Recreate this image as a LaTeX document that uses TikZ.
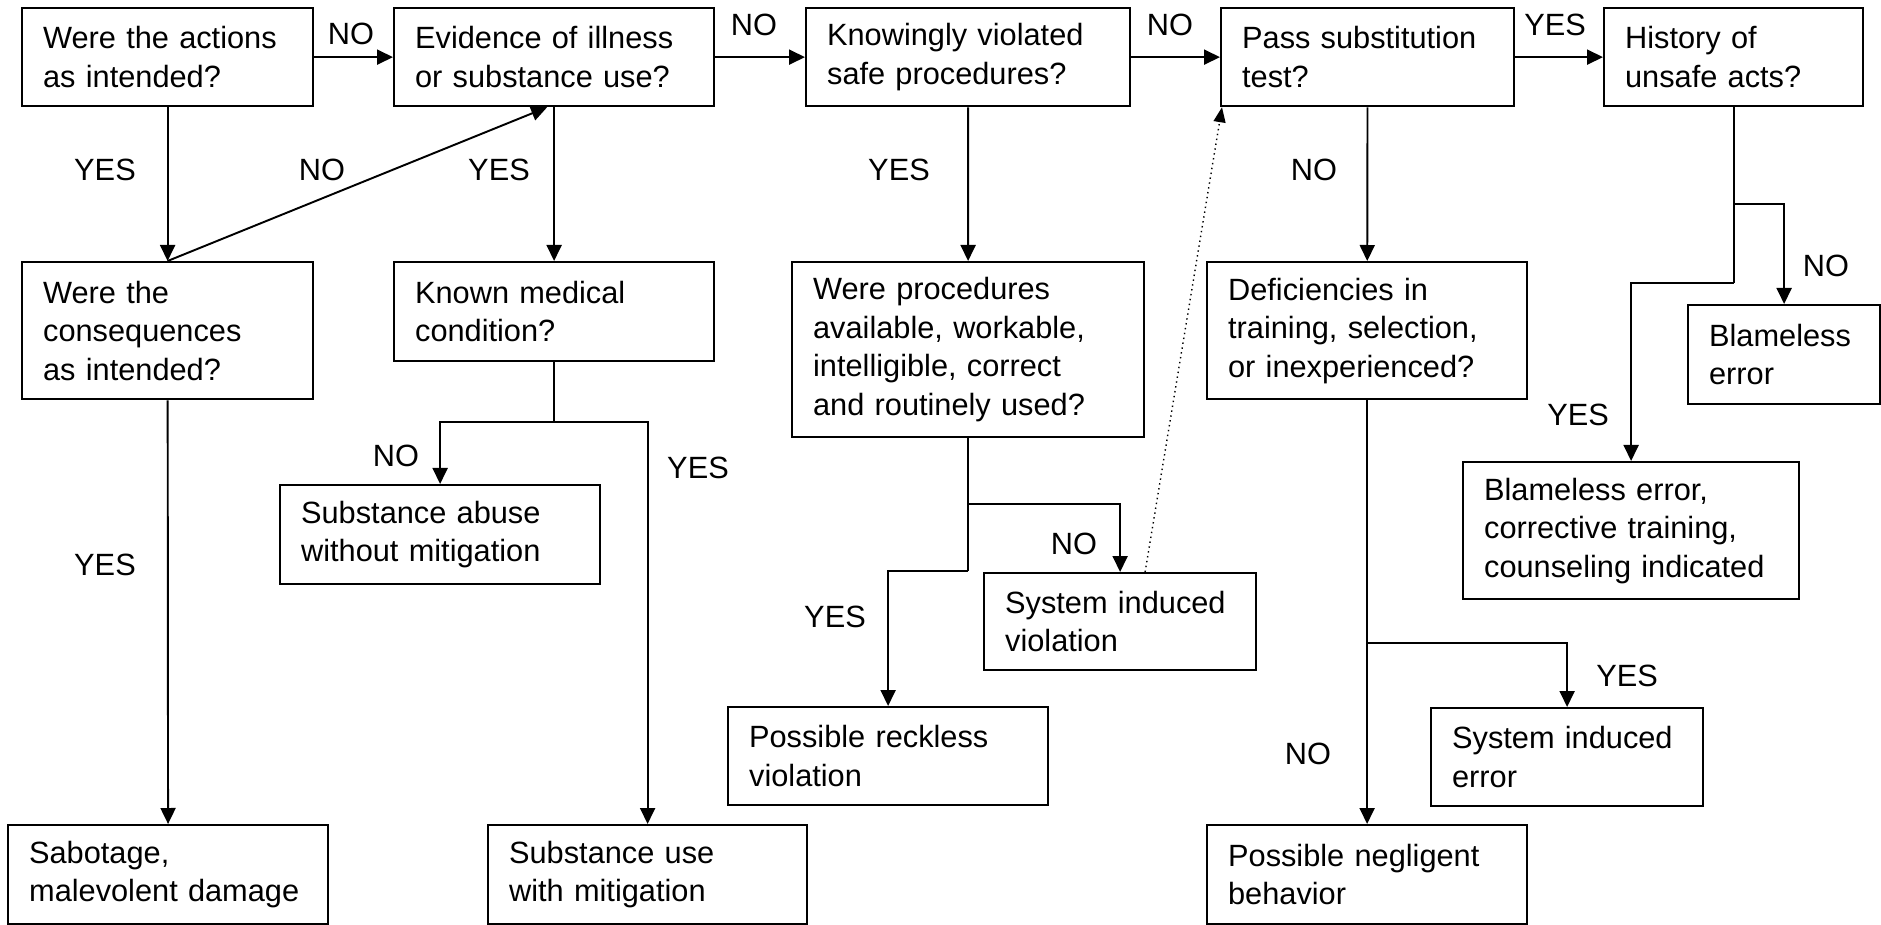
\documentclass[tikz,border=0pt]{standalone}
\usepackage{fontspec}
\setmainfont{Liberation Sans}
\usetikzlibrary{arrows.meta}

\begin{document}
\begin{tikzpicture}[x=0.02cm, y=-0.02cm,
      box/.style={draw, line width=1.3pt, anchor=north west, align=left, inner xsep=0.42cm, inner ysep=0pt,
                  font=\fontsize{17.5}{21.9}\selectfont},
      lbl/.style={font=\fontsize{17.5}{21.9}\selectfont, inner sep=0pt},
      link/.style={line width=1.1pt},
      arr/.style={link, -{Triangle[length=0.32cm, width=0.3cm]}},
      hint/.style={dotted, line width=0.8pt, -{Triangle[length=0.3cm, width=0.24cm]}}]
    \useasboundingbox (0,0) rectangle (1881,925);
    % top row
    \node[box, text width=4.98cm, minimum height=1.96cm] (act) at (21,7) {Were the actions\\as intended?};
    \node[box, text width=5.56cm, minimum height=1.96cm] (evid) at (393,7) {Evidence of illness\\or substance use?};
    \node[box, text width=5.64cm, minimum height=1.96cm] (know) at (805,7) {Knowingly violated\\safe procedures?};
    \node[box, text width=5.02cm, minimum height=1.96cm] (pass) at (1220,7) {Pass substitution\\test?};
    \node[box, text width=4.34cm, minimum height=1.96cm] (hist) at (1603,7) {History of\\unsafe acts?};
    % second row
    \node[box, text width=4.98cm, minimum height=2.74cm] (cons) at (21,261) {Were the\\consequences\\as intended?};
    \node[box, text width=5.56cm, minimum height=1.98cm] (med) at (393,261) {Known medical\\condition?};
    \node[box, text width=6.20cm, minimum height=3.50cm] (proc) at (791,261) {Were procedures\\available, workable,\\intelligible, correct\\and routinely used?};
    \node[box, text width=5.56cm, minimum height=2.74cm] (defic) at (1206,261) {Deficiencies in\\training, selection,\\or inexperienced?};
    \node[box, text width=3.00cm, minimum height=1.98cm] (blam) at (1687,304) {Blameless\\error};
    % outcomes
    \node[box, text width=5.56cm, minimum height=1.98cm] (abuse) at (279,484) {Substance abuse\\without mitigation};
    \node[box, text width=5.88cm, minimum height=2.74cm] (corr) at (1462,461) {Blameless error,\\corrective training,\\counseling indicated};
    \node[box, text width=4.60cm, minimum height=1.94cm] (siv) at (983,572) {System induced\\violation};
    \node[box, text width=5.56cm, minimum height=1.96cm] (reck) at (727,706) {Possible reckless\\violation};
    \node[box, text width=4.60cm, minimum height=1.96cm] (sie) at (1430,707) {System induced\\error};
    \node[box, text width=5.56cm, minimum height=1.98cm] (sab) at (7,824) {Sabotage,\\malevolent damage};
    \node[box, text width=5.54cm, minimum height=1.98cm] (subm) at (487,824) {Substance use\\with mitigation};
    \node[box, text width=5.56cm, minimum height=1.98cm] (negl) at (1206,824) {Possible negligent\\behavior};

    \coordinate (medsplit) at (med.south |- 0,422);
    \coordinate (procyes) at (proc.south |- 0,571);
    \coordinate (procno) at (proc.south |- 0,504);
    \coordinate (deficsplit) at (defic.south |- 0,643);
    \coordinate (histno) at (hist.south |- 0,204);
    \coordinate (histyes) at (hist.south |- 0,283);

    \draw[arr] (act) -- (evid); \draw[arr] (evid) -- (know); \draw[arr] (know) -- (pass); \draw[arr] (pass) -- (hist);
    \draw[arr] (act) -- (cons); \draw[arr] (cons) -- (sab);
    \draw[arr] (cons.north) -- ([xshift=-0.14cm]evid.south);
    \draw[arr] (evid) -- (med);
    \draw[link] (med.south) -- (medsplit);
    \draw[arr] (medsplit) -| (abuse.north); \draw[arr] (medsplit) -| (subm.north);
    \draw[arr] (know) -- (proc);
    \draw[link] (proc.south) -- (procyes);
    \draw[arr] (procno) -| (siv.north); \draw[arr] (procyes) -| (reck.north);
    \draw[hint] ([xshift=0.5cm]siv.north) -- ([xshift=0.04cm]pass.south west);
    \draw[arr] (pass) -- (defic); \draw[arr] (defic) -- (negl);
    \draw[arr] (deficsplit) -| (sie.north);
    \draw[link] (hist.south) -- (histyes);
    \draw[arr] (histno) -| (blam.north); \draw[arr] (histyes) -| (corr.north);

    % branch labels
    \node[lbl] (no1) at (351,34) {NO};
    \node[lbl] (no2) at (754,25) {NO};
    \node[lbl] (no3) at (1170,25) {NO};
    \node[lbl] (yes1) at (1555,25) {YES};
    \node[lbl] (yes2) at (105,170) {YES};
    \node[lbl] (no4) at (322,170) {NO};
    \node[lbl] (yes3) at (499,170) {YES};
    \node[lbl] (yes4) at (899,170) {YES};
    \node[lbl] (no5) at (1314,170) {NO};
    \node[lbl] (no6) at (396,456) {NO};
    \node[lbl] (yes5) at (698,468) {YES};
    \node[lbl] (yes6) at (105,565) {YES};
    \node[lbl] (no7) at (1074,544) {NO};
    \node[lbl] (yes7) at (835,617) {YES};
    \node[lbl] (yes8) at (1578,415) {YES};
    \node[lbl] (no8) at (1826,266) {NO};
    \node[lbl] (yes9) at (1627,676) {YES};
    \node[lbl] (no9) at (1308,754) {NO};
  \end{tikzpicture}
\end{document}
